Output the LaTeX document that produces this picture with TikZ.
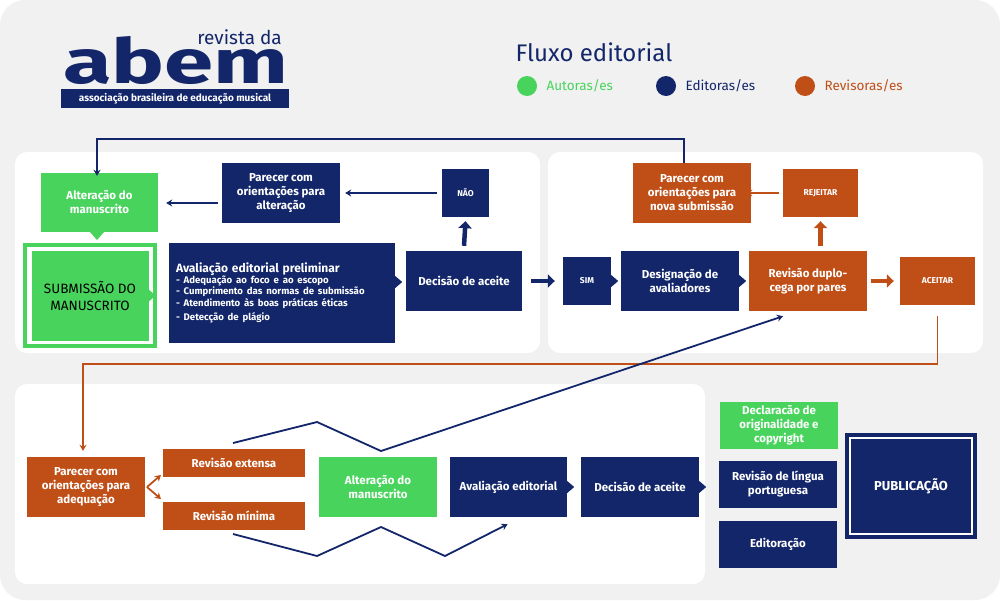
\documentclass[tikz,border=0pt]{standalone}
\usepackage{fontspec}
\setmainfont{Fira Sans}
\usetikzlibrary{arrows.meta}
\definecolor{navy}{HTML}{13266A}
\definecolor{verde}{HTML}{48D45C}
\definecolor{laranja}{HTML}{C04F17}
\definecolor{fundo}{HTML}{F1F1F1}
\tikzset{
  caixa/.style={align=center, text=white, inner sep=0pt, font=\fontsize{11.5}{14}\selectfont\bfseries},
  ed/.style={caixa, fill=navy},
  au/.style={caixa, fill=verde},
  rv/.style={caixa, fill=laranja},
  miuda/.style={font=\fontsize{8.5}{10}\selectfont\bfseries},
  seta/.style={line width=1.6pt, -{Stealth[length=6pt,width=7pt]}},
  gorda/.style={line width=4.5pt, -{Triangle[length=7pt,width=13pt]}},
  painel/.style={fill=white, rounded corners=12pt},
}
% pointer triangle on the right side of a box
\newcommand\bico[3][0]{\fill[#3] ([yshift=#1pt+6pt]#2.east) -- ([yshift=#1pt,xshift=7pt]#2.east) -- ([yshift=#1pt-6pt]#2.east) -- cycle;}
\begin{document}
\begin{tikzpicture}[x=1pt,y=-1pt]
\def \xl {0};
\def \xr {1000};
\def \yt {0};
\def \yb {600};

\fill[white] (\xl,\yt) rectangle (\xr,\yb);
\fill[fundo, rounded corners=25pt] (\xl,\yt) rectangle (\xr,\yb);
\useasboundingbox (\xl,\yt) rectangle (\xr,\yb);

% panels
\fill[painel] (15,152) rectangle (540,353);
\fill[painel] (548,152) rectangle (983,353);
\fill[painel] (15,384) rectangle (705,584);

% logo
\node[text=navy, font=\fontsize{62}{62}\selectfont\bfseries, inner sep=0pt, anchor=base west, xscale=1.43] (abem) at (63,83) {abem};
\node[text=navy, font=\fontsize{19}{19}\selectfont, inner sep=0pt, anchor=base east] (revista) at (282,44) {revista da};
\node[fill=navy, text=white, font=\fontsize{10}{10}\selectfont\bfseries, minimum width=228pt, minimum height=19pt, inner sep=0pt] (assoc) at (175,98.5) {associação brasileira de educação musical};

% title and legend
\node[text=navy, font=\fontsize{24}{24}\selectfont, anchor=west] (titulo) at (512,52) {Fluxo editorial};
\fill[verde] (527,86) circle (10pt);
\node[text=verde, font=\fontsize{13.5}{13}\selectfont, anchor=west] (lautor) at (543,86) {Autoras/es};
\fill[navy] (666,86) circle (10pt);
\node[text=navy, font=\fontsize{13.5}{13}\selectfont, anchor=west] (leditor) at (682,86) {Editoras/es};
\fill[laranja] (805,86) circle (10pt);
\node[text=laranja, font=\fontsize{13.5}{13}\selectfont, anchor=west] (lrev) at (821,86) {Revisoras/es};

% first panel
\node[au, minimum width=117pt, minimum height=59pt] (alt1) at (99.5,202.5) {Alteração do\\manuscrito};
\fill[verde] (90,232) -- (97,240) -- (104,232) -- cycle;
\fill[verde] (23,243) rectangle (157,348);
\fill[white] (27,247) rectangle (153,344);
\node[au, text=black, font=\fontsize{13.5}{17}\selectfont, minimum width=117pt, minimum height=90pt] (sub) at (90,295.5) {SUBMISSÃO DO\\MANUSCRITO};
\bico{sub}{verde}
\node[ed, minimum width=118pt, minimum height=60pt] (par1) at (281,193) {Parecer com\\orientações para\\alteração};
\node[ed, miuda, minimum width=47pt, minimum height=48pt] (nao) at (465.5,193) {NÃO};
\node[ed, minimum width=226pt, minimum height=100pt, align=left, text width=212pt] (aval) at (282,293) {%
  {\fontsize{12}{15}\selectfont Avaliação editorial preliminar}\\[-1pt]
  {\fontsize{9.6}{11.5}\selectfont - Adequação ao foco e ao escopo\\
  - Cumprimento das normas de submissão\\
  - Atendimento às boas práticas éticas\\
  - Detecção de plágio}};
\bico[11]{aval}{navy}
\node[ed, minimum width=116pt, minimum height=60pt] (dec1) at (464,281) {Decisão de aceite};
\draw[seta, navy] ([xshift=-5pt]nao.west) -- ([xshift=5pt]par1.east);
\draw[seta, navy] ([xshift=-4pt,yshift=-10pt]par1.west) -- ([xshift=8pt,yshift=-10pt]par1.west -| alt1.east);
\draw[gorda, navy] ([yshift=5pt]dec1.north) -- ([yshift=-4pt]nao.south);

% second panel
\node[ed, miuda, minimum width=48pt, minimum height=48pt] (sim) at (587,281) {SIM};
\bico{sim}{navy}
\node[ed, minimum width=118pt, minimum height=60pt] (desig) at (680,281) {Designação de\\avaliadores};
\bico{desig}{navy}
\node[rv, minimum width=118pt, minimum height=60pt] (rev2) at (808,281) {Revisão duplo-\\cega por pares};
\node[rv, miuda, minimum width=75pt, minimum height=48pt] (aceitar) at (937.5,281) {ACEITAR};
\node[rv, miuda, minimum width=75pt, minimum height=48pt] (rejeitar) at (820.5,193) {REJEITAR};
\node[rv, minimum width=118pt, minimum height=60pt] (par2) at (692,193) {Parecer com\\orientações para\\nova submissão};
\draw[gorda, navy] ([xshift=9pt]dec1.east) -- ([xshift=-8pt]sim.west);
\draw[gorda, laranja] ([xshift=4pt]rev2.east) -- ([xshift=-6pt]aceitar.west);
\draw[gorda, laranja] ([yshift=5pt]rejeitar.south |- rev2.north) -- ([yshift=-4pt]rejeitar.south);
\draw[seta, laranja] ([xshift=-4pt]rejeitar.west) -- ([xshift=-5pt]par2.east);
\coordinate (vtopo) at (684,139);
\draw[seta, navy, line width=1.8pt] (par2.north -| vtopo) |- (vtopo) -| ([yshift=-3pt]alt1.north -| 97,0);

% third panel
\node[rv, minimum width=118pt, minimum height=60pt] (par3) at (86,487) {Parecer com\\orientações para\\adequação};
\node[rv, minimum width=142pt, minimum height=28pt] (ext) at (234,463) {Revisão extensa};
\node[rv, minimum width=142pt, minimum height=28pt] (min) at (234,516) {Revisão mínima};
\node[au, minimum width=118pt, minimum height=60pt] (alt3) at (378,487) {Alteração do\\manuscrito};
\node[ed, minimum width=117pt, minimum height=60pt] (aval3) at (508.5,487) {Avaliação editorial};
\bico{aval3}{navy}
\node[ed, minimum width=118pt, minimum height=60pt] (dec3) at (640,487) {Decisão de aceite};
\bico{dec3}{navy}
\coordinate (garfo) at (147,487);
\draw[laranja, line width=1.8pt, -{Stealth[length=6pt,width=7pt]}] (garfo) -- (161,475);
\draw[laranja, line width=1.8pt, -{Stealth[length=6pt,width=7pt]}] (garfo) -- (161,499);
\coordinate (ltopo) at (930,364);
\draw[seta, laranja, line width=1.4pt] ([yshift=-11pt]aceitar.south) |- (ltopo -| 83,0) -- ([yshift=6pt]par3.north -| 83,0);
\draw[seta, navy, line width=1.8pt] (233,443) -- (317,422) -- (381,451) -- ([xshift=-25pt,yshift=-5pt]rev2.south);
\draw[seta, navy, line width=1.8pt] (233,534) -- (317,556) -- (381,527) -- (445,556) -- ([xshift=-1pt,yshift=-7pt]aval3.south);

% right column
\node[au, minimum width=118pt, minimum height=47pt] (decl) at (779,425.5) {Declaracão de\\originalidade e\\copyright};
\node[ed, minimum width=118pt, minimum height=47pt] (lingua) at (778,484) {Revisão de língua\\portuguesa};
\node[ed, minimum width=118pt, minimum height=47pt] (editora) at (778,544) {Editoração};
\fill[navy] (845,433) rectangle (977,539);
\fill[white] (849,437) rectangle (973,535);
\node[ed, font=\fontsize{13}{15}\selectfont\bfseries, minimum width=120pt, minimum height=94pt] (pub) at (911,486) {PUBLICAÇÃO};
\end{tikzpicture}
\end{document}
